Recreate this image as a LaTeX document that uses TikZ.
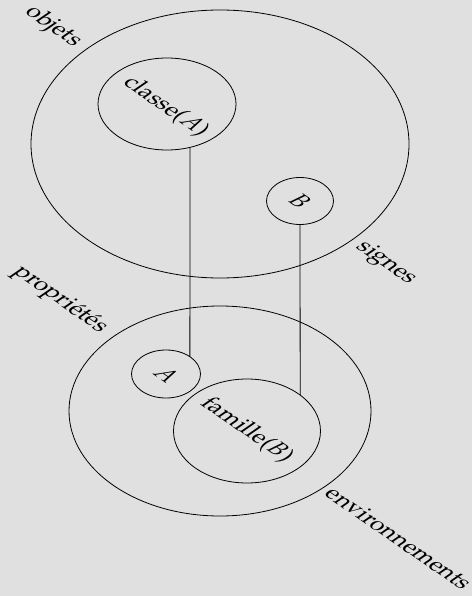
\documentclass[tikz,border=0pt]{standalone}
\usepackage[T1]{fontenc}
\usepackage{mathpazo}
\usetikzlibrary{shapes.geometric}

\begin{document}
\begin{tikzpicture}[
  x=1pt, y=-1pt,
  font=\fontsize{18.8}{22}\selectfont,
  set/.style={draw, ellipse, line width=0.8pt, inner sep=0pt, outer sep=0pt},
  tag/.style={xscale=1.45, rotate=-45, inner sep=0pt},
  link/.style={line width=0.8pt},
]
\useasboundingbox[fill={rgb,255:red,224;green,224;blue,224}] (0,0) rectangle (472,596);

% upper ellipse
\node[set, minimum width=378pt, minimum height=268pt] (objets) at (220,144) {};
\node[set, minimum width=138pt, minimum height=92pt] (classeA) at (167,104) {};
\node[set, minimum width=67pt, minimum height=47pt] (B) at (300,201) {};

% lower ellipse
\node[set, minimum width=302pt, minimum height=210pt] (proprietes) at (220,411) {};
\node[set, minimum width=69pt, minimum height=48pt] (A) at (166,374) {};
\node[set, minimum width=147pt, minimum height=104pt] (familleB) at (247,431) {};

% texts
\node[tag] (tobjets) at (53,27) {objets};
\node[tag] (tclasse) at (166,107) {classe($A$)};
\node[tag] (tB) at (300,201) {$B$};
\node[tag] (tsignes) at (386,263) {signes};
\node[tag] (tprop) at (60,300) {propri\'et\'es};
\node[tag] (tA) at (166,374) {$A$};
\node[tag] (tfam) at (247,430) {famille($B$)};
\node[tag] (tenv) at (399,538) {environnements};

\draw[link] (classeA.-62) -- (A.36);
\draw[link] (B.south) -- (familleB.34);
\end{tikzpicture}
\end{document}
